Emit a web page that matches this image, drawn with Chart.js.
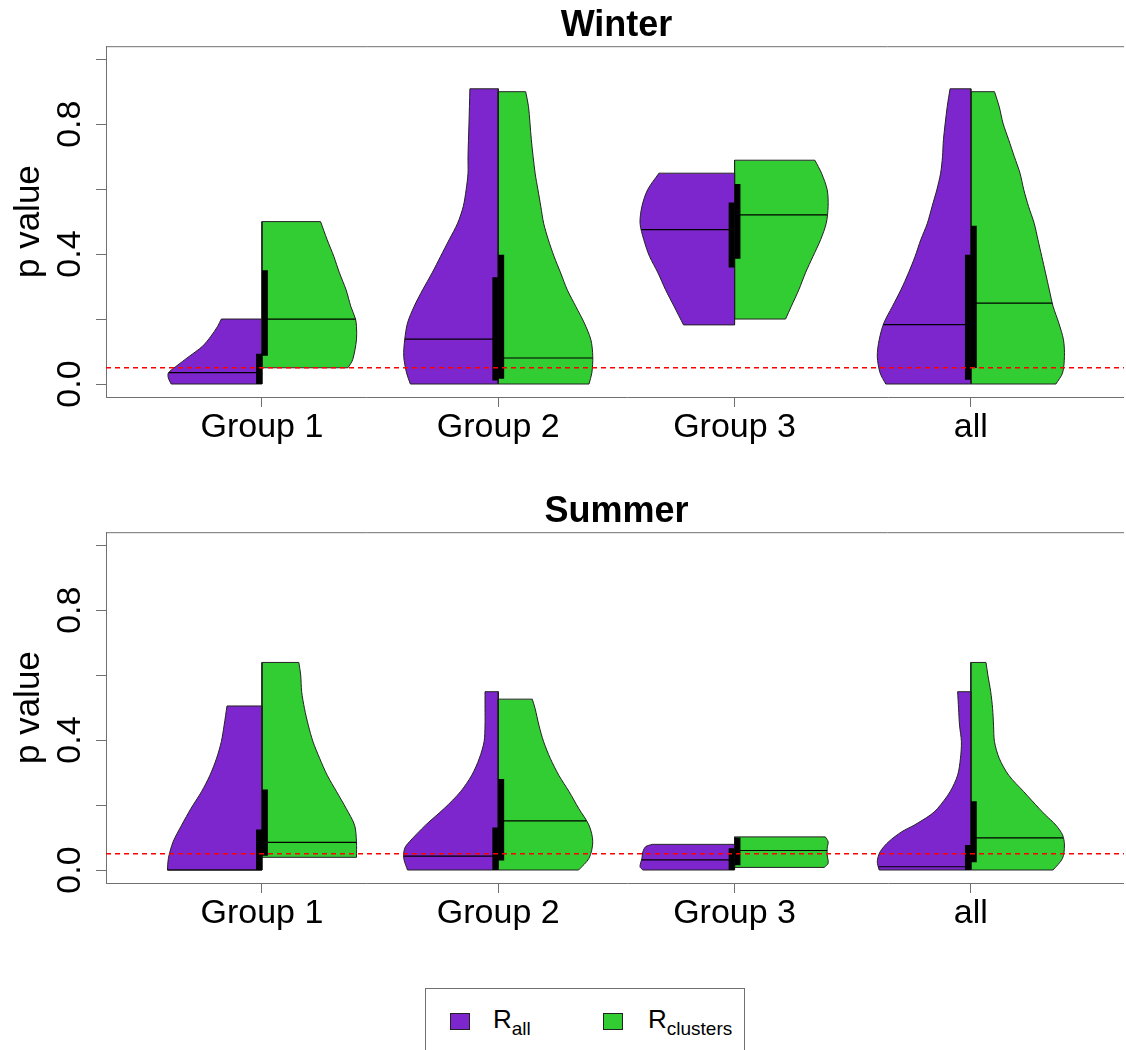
<!DOCTYPE html>
<html>
<head>
<meta charset="utf-8">
<script src="https://cdn.jsdelivr.net/npm/chart.js@4.4.1/dist/chart.umd.min.js"></script>
<style>
    html, body { margin: 0; padding: 0; overflow: hidden; background: #fff; }
    body { width: 1126px; height: 1050px; position: relative;
           font-family: "Liberation Sans", Arial, sans-serif; }
    .wrap { position: absolute; left: 0; width: 1124px; overflow: hidden; }
    #winter_wrap { top: 0; height: 486px; }
    #summer_wrap { top: 486px; height: 486px; }
    canvas { display: block; }
    .legend_box { position: absolute; left: 425px; top: 988px; width: 318px; height: 80px; border: 1px solid #707070; }
    .key { position: absolute; top: 1013px; width: 20px; height: 17px; border: 1px solid #222; box-sizing: border-box; }
    .lab { position: absolute; top: 1006px; font-size: 26px; line-height: 26px; color: #000; }
    .lab sub { font-size: 19px; vertical-align: -7px; line-height: 0; }
</style>
</head>
<body>
<div class="wrap" id="winter_wrap"><canvas id="winter_chart" width="1160" height="486"></canvas></div>
<div class="wrap" id="summer_wrap"><canvas id="summer_chart" width="1160" height="486"></canvas></div>

<div class="legend_box"></div>
<div class="key" style="left:450px; background:#7D26CD;"></div>
<div class="lab" style="left:493px;">R<sub>all</sub></div>
<div class="key" style="left:603px; background:#32CD32;"></div>
<div class="lab" style="left:648px;">R<sub>clusters</sub></div>

<script>
const groups = ['Group 1', 'Group 2', 'Group 3', 'all'];
const yTicks = [0, 0.2, 0.4, 0.6, 0.8, 1.0];
const yLabels = [0, 0.4, 0.8];
const alpha = 0.05;

// violin outlines: [p value, relative density], one per group
const winterAll = [
    [[0, 0.96], [0.018, 0.99], [0.034, 0.99], [0.054, 0.91], [0.085, 0.77], [0.116, 0.63], [0.147, 0.54], [0.177, 0.47], [0.2, 0.43]],
    [[0, 0.93], [0.034, 0.97], [0.085, 1.0], [0.136, 0.99], [0.188, 0.96], [0.239, 0.89], [0.29, 0.80], [0.342, 0.70], [0.393, 0.61], [0.444, 0.52], [0.495, 0.43], [0.547, 0.37], [0.598, 0.34], [0.649, 0.32], [0.7, 0.32], [0.8, 0.31], [0.909, 0.30]],
    [[0.182, 0.54], [0.239, 0.64], [0.29, 0.73], [0.342, 0.81], [0.393, 0.90], [0.444, 0.96], [0.495, 1.0], [0.547, 0.98], [0.598, 0.92], [0.649, 0.80]],
    [[0, 0.90], [0.034, 0.96], [0.085, 0.99], [0.136, 0.97], [0.188, 0.92], [0.239, 0.83], [0.29, 0.74], [0.342, 0.66], [0.393, 0.59], [0.444, 0.53], [0.495, 0.46], [0.547, 0.41], [0.598, 0.36], [0.649, 0.32], [0.7, 0.30], [0.752, 0.29], [0.854, 0.25], [0.909, 0.22]]
];
const winterClusters = [
    [[0.05, 0.91], [0.075, 0.96], [0.136, 1.0], [0.177, 1.0], [0.2, 0.99], [0.239, 0.94], [0.29, 0.89], [0.342, 0.82], [0.393, 0.76], [0.444, 0.69], [0.5, 0.62]],
    [[0, 0.96], [0.034, 0.99], [0.085, 1.0], [0.136, 0.98], [0.188, 0.91], [0.239, 0.82], [0.29, 0.73], [0.342, 0.66], [0.393, 0.59], [0.444, 0.53], [0.495, 0.48], [0.547, 0.45], [0.598, 0.42], [0.649, 0.39], [0.752, 0.35], [0.854, 0.32], [0.9, 0.29]],
    [[0.2, 0.54], [0.239, 0.60], [0.29, 0.68], [0.342, 0.75], [0.393, 0.83], [0.444, 0.91], [0.495, 0.97], [0.547, 0.99], [0.598, 0.98], [0.649, 0.92], [0.689, 0.85]],
    [[0, 0.90], [0.034, 0.97], [0.085, 0.99], [0.136, 0.98], [0.188, 0.93], [0.239, 0.87], [0.29, 0.83], [0.342, 0.79], [0.393, 0.75], [0.444, 0.71], [0.495, 0.67], [0.547, 0.61], [0.598, 0.56], [0.649, 0.52], [0.7, 0.46], [0.752, 0.40], [0.803, 0.34], [0.854, 0.30], [0.9, 0.25]]
];
const summerAll = [
    [[0, 1.0], [0.036, 0.99], [0.087, 0.94], [0.138, 0.85], [0.19, 0.75], [0.241, 0.64], [0.292, 0.55], [0.344, 0.48], [0.395, 0.43], [0.446, 0.40], [0.505, 0.37]],
    [[0, 0.96], [0.036, 1.0], [0.067, 0.99], [0.087, 0.94], [0.138, 0.77], [0.19, 0.57], [0.241, 0.40], [0.292, 0.28], [0.344, 0.20], [0.395, 0.15], [0.446, 0.14], [0.497, 0.14], [0.549, 0.14]],
    [[0, 0.97], [0.01, 1.0], [0.036, 0.98], [0.056, 0.97], [0.072, 0.94], [0.079, 0.87]],
    [[0, 0.97], [0.026, 0.99], [0.056, 0.96], [0.087, 0.87], [0.118, 0.73], [0.138, 0.60], [0.169, 0.43], [0.19, 0.35], [0.241, 0.22], [0.292, 0.14], [0.344, 0.11], [0.395, 0.10], [0.446, 0.12], [0.497, 0.13], [0.549, 0.14]]
];
const summerClusters = [
    [[0.039, 1.0], [0.087, 1.0], [0.138, 0.98], [0.19, 0.89], [0.241, 0.79], [0.292, 0.69], [0.344, 0.61], [0.395, 0.54], [0.446, 0.49], [0.497, 0.45], [0.549, 0.42], [0.6, 0.41], [0.639, 0.39]],
    [[0, 0.85], [0.036, 0.96], [0.087, 1.0], [0.138, 0.96], [0.19, 0.85], [0.241, 0.75], [0.292, 0.64], [0.344, 0.55], [0.395, 0.48], [0.446, 0.43], [0.497, 0.39], [0.526, 0.36]],
    [[0.008, 0.95], [0.021, 0.99], [0.046, 0.98], [0.067, 0.98], [0.087, 0.99], [0.102, 0.96]],
    [[0, 0.87], [0.036, 0.97], [0.077, 0.99], [0.108, 0.97], [0.138, 0.90], [0.169, 0.79], [0.19, 0.72], [0.241, 0.56], [0.292, 0.40], [0.344, 0.30], [0.395, 0.25], [0.446, 0.24], [0.497, 0.23], [0.549, 0.21], [0.6, 0.18], [0.639, 0.16]]
];

// [lower quartile, median, upper quartile] per group
const winterAllBox = [[0, 0.035, 0.093], [0.011, 0.138, 0.329], [0.359, 0.475, 0.559], [0.013, 0.183, 0.398]];
const winterClustersBox = [[0.087, 0.2, 0.35], [0.016, 0.08, 0.398], [0.386, 0.521, 0.616], [0.049, 0.249, 0.487]];
const summerAllBox = [[0, 0.0, 0.125], [0, 0.043, 0.131], [0, 0.031, 0.067], [0, 0.01, 0.077]];
const summerClustersBox = [[0.044, 0.085, 0.248], [0.029, 0.151, 0.28], [0.015, 0.06, 0.1], [0.024, 0.099, 0.212]];

const purple = '#7D26CD';
const green = '#32CD32';
const outlineColor = '#222';
const axisGrey = '#707070';
const fontFamily = '"Liberation Sans", Arial, sans-serif';
// the right edge of the box falls just off the page, as in the original
const xMin = 0.34, xMax = 4.75;
const halfWidth = 0.4;   // widest half violin, in x units
const boxWidth = 0.025;

function widthAt(shape, p) {
    for (let i = 1; i < shape.length; i++) {
        if (p <= shape[i][0]) {
            const [p0, d0] = shape[i - 1], [p1, d1] = shape[i];
            return d0 + (d1 - d0) * (p - p0) / (p1 - p0);
        }
    }
    return shape[shape.length - 1][1];
}

function halfViolin(shape, box, center, side, color) {
    const sets = [];
    const first = shape[0], last = shape[shape.length - 1];

    // curved side, filled back to the centre line (index axis is y)
    sets.push({
        data: shape.map(([p, d]) => ({x: center + side * d * halfWidth, y: p})),
        backgroundColor: color, borderColor: outlineColor, borderWidth: 1,
        fill: {value: center}, pointRadius: 0, tension: 0.3, order: 4
    });
    // flat ends and centre edge
    sets.push({
        data: [{x: center + side * last[1] * halfWidth, y: last[0]}, {x: center, y: last[0]},
               {x: center, y: first[0]}, {x: center + side * first[1] * halfWidth, y: first[0]}],
        borderColor: outlineColor, borderWidth: 1, fill: false, pointRadius: 0, tension: 0, order: 3
    });

    const med = Math.max(box[1], first[0]);
    sets.push({
        data: [{x: center, y: med}, {x: center + side * widthAt(shape, med) * halfWidth, y: med}],
        borderColor: '#000', borderWidth: 1.2, pointRadius: 0, fill: false, order: 2
    });

    sets.push({
        data: [{x: center, y: box[0]}, {x: center + side * boxWidth, y: box[0]},
               {x: center + side * boxWidth, y: box[2]}, {x: center, y: box[2]}, {x: center, y: box[0]}],
        backgroundColor: '#000', borderColor: '#000', borderWidth: 0, fill: 'shape', pointRadius: 0, order: 1
    });
    return sets;
}

function buildDatasets(allShapes, clusterShapes, allBoxes, clusterBoxes) {
    let sets = [];
    groups.forEach((g, i) => {
        sets = sets.concat(halfViolin(allShapes[i], allBoxes[i], i + 1, -1, purple));
        sets = sets.concat(halfViolin(clusterShapes[i], clusterBoxes[i], i + 1, 1, green));
    });
    sets.push({
        data: [{x: xMin, y: alpha}, {x: xMax, y: alpha}],
        borderColor: '#ff0000', borderWidth: 1.5, borderDash: [5, 4], pointRadius: 0, fill: false, order: 0
    });
    return sets;
}

// top edge of the box plus rotated y tick labels, R style
const framePlugin = {
    id: 'frame',
    afterDraw(chart) {
        const {ctx, chartArea} = chart;
        const y = chart.scales.y;
        ctx.save();
        ctx.strokeStyle = axisGrey;
        ctx.lineWidth = 1;
        ctx.beginPath();
        ctx.moveTo(chartArea.left, chartArea.top + 0.5);
        ctx.lineTo(chartArea.right, chartArea.top + 0.5);
        ctx.stroke();
        ctx.fillStyle = '#000';
        ctx.font = '34px ' + fontFamily;
        ctx.textAlign = 'center';
        ctx.textBaseline = 'alphabetic';
        yLabels.forEach(v => {
            ctx.save();
            ctx.translate(80, y.getPixelForValue(v));
            ctx.rotate(-Math.PI / 2);
            ctx.fillText(v.toFixed(1), 0, 0);
            ctx.restore();
        });
        ctx.restore();
    }
};

function makeChart(id, title, datasets) {
    return new Chart(document.getElementById(id), {
        type: 'line',
        data: { datasets: datasets },
        plugins: [framePlugin],
        options: {
            indexAxis: 'y',
            responsive: false,
            animation: false,
            events: [],
            // 236.3 px per group: right edge = 106 + (xMax - xMin) * 236.3
            layout: { padding: { left: 0, right: 1160 - 106 - (xMax - xMin) * 236.3, top: 0, bottom: 0 } },
            plugins: {
                legend: { display: false },
                tooltip: { enabled: false },
                title: {
                    display: true,
                    text: title,
                    fullSize: false,
                    align: 'start',
                    color: '#000',
                    font: { size: 36, weight: 'bold', family: fontFamily },
                    padding: { top: 4, bottom: -1 }
                }
            },
            scales: {
                x: {
                    type: 'linear',
                    position: 'bottom',
                    min: xMin,
                    max: xMax,
                    afterBuildTicks: s => { s.ticks = groups.map((g, i) => ({ value: i + 1 })); },
                    afterFit: s => { s.height = 89; },
                    ticks: {
                        autoSkip: false,
                        maxRotation: 0,
                        padding: 0,
                        color: '#000',
                        font: { size: 34, family: fontFamily },
                        callback: v => groups[v - 1]
                    },
                    grid: { drawOnChartArea: false, tickLength: 10, color: axisGrey },
                    border: { color: axisGrey }
                },
                y: {
                    type: 'linear',
                    position: 'left',
                    min: -0.04,
                    max: 1.04,
                    afterBuildTicks: s => { s.ticks = yTicks.map(v => ({ value: v })); },
                    afterFit: s => { s.width = 106; },
                    ticks: { display: false },
                    grid: { drawOnChartArea: false, tickLength: 10, color: axisGrey },
                    border: { color: axisGrey },
                    title: {
                        display: true,
                        text: 'p value',
                        color: '#000',
                        font: { size: 35, family: fontFamily },
                        padding: { top: 8, bottom: 0 }
                    }
                }
            }
        }
    });
}

// title sits over the centre of the original box (x 106 to 1127)
const titleCentre = {
    id: 'titleCentre',
    beforeDraw(chart) {
        const t = chart.titleBlock;
        if (t) { t.left = 106; t.right = 1127; t.width = 1021; t.options.align = 'center'; }
    }
};
Chart.register(titleCentre);

makeChart('winter_chart', 'Winter', buildDatasets(winterAll, winterClusters, winterAllBox, winterClustersBox));
makeChart('summer_chart', 'Summer', buildDatasets(summerAll, summerClusters, summerAllBox, summerClustersBox));
</script>
</body>
</html>
